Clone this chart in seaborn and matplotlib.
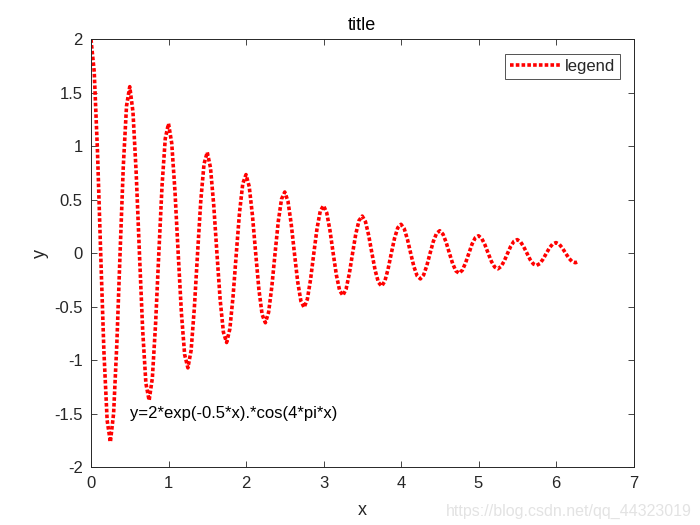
import numpy as np
import pandas as pd
import matplotlib
matplotlib.use("Agg")
import matplotlib.pyplot as plt
import seaborn as sns

y_vals = [
    2.00, 1.696, 0.959, 0.0, -0.920, -1.561, -1.765, -1.497, -0.847, 0.0, 0.812, 1.377,
    1.558, 1.321, 0.747, 0.0, -0.717, -1.216, -1.375, -1.166, -0.659, 0.0, 0.632, 1.073,
    1.213, 1.029, 0.582, 0.0, -0.558, -0.947, -1.071, -0.908, -0.513, 0.0, 0.493, 0.835,
    0.945, 0.801, 0.453, 0.0, -0.435, -0.737, -0.834, -0.707, -0.400, 0.0, 0.384, 0.651,
    0.736, 0.624, 0.353, 0.0, -0.339, -0.574, -0.649, -0.551, -0.311, 0.0, 0.299, 0.507,
    0.573, 0.486, 0.275, 0.0, -0.264, -0.447, -0.506, -0.429, -0.243, 0.0, 0.233, 0.395,
    0.446, 0.379, 0.214, 0.0, -0.205, -0.348, -0.394, -0.334, -0.189, 0.0, 0.181, 0.307,
    0.348, 0.295, 0.167, 0.0, -0.160, -0.271, -0.307, -0.260, -0.147, 0.0, 0.141, 0.239,
    0.271, 0.230, 0.130, 0.0, -0.125, -0.211, -0.239, -0.203, -0.115, 0.0, 0.110, 0.186,
    0.211, 0.179, 0.101, 0.0, -0.097, -0.165, -0.186, -0.158, -0.089, 0.0, 0.086, 0.145,
    0.164, 0.139, 0.079, 0.0, -0.076, -0.128, -0.145, -0.123, -0.070, 0.0, 0.067, 0.113,
    0.128, 0.108, 0.061, 0.0, -0.059, -0.100, -0.113, -0.096, -0.054, 0.0, 0.052, 0.088,
    0.100, 0.085, 0.048, 0.0, -0.046, -0.078, -0.088, -0.079,
]
x_vals = list(np.linspace(0.0, 6.25, len(y_vals) - 1)) + [6.2832]

x_ticks = [0, 1, 2, 3, 4, 5, 6, 7]
y_ticks = [-2, -1.5, -1, -0.5, 0, 0.5, 1, 1.5, 2]
y_tick_labels = ["-2", "-1.5", "-1", "-0.5", "0", "0.5", "1", "1.5", "2"]

df = pd.DataFrame({"x": x_vals, "y": y_vals, "series": "legend"})

sns.set_theme(style="white")
plt.rcParams["font.family"] = ["Liberation Sans", "DejaVu Sans"]

fig = plt.figure(figsize=(7, 5.25), dpi=100)
ax = fig.add_axes([0.13, 0.11, 0.775, 0.815])

sns.lineplot(data=df, x="x", y="y", hue="series", palette=["#ff0000"],
             sort=False, ax=ax, linewidth=2.6, linestyle=":")
for ln in ax.get_lines():
    ln.set_linestyle((0, (1, 0.6)))

ax.set_xlim(0, 7)
ax.set_ylim(-2, 2)
ax.set_xticks(x_ticks)
ax.set_xticklabels([str(t) for t in x_ticks])
ax.set_yticks(y_ticks)
ax.set_yticklabels(y_tick_labels)
ax.tick_params(direction="in", length=4, width=0.6, labelsize=12, colors="#262626",
               top=True, right=True, bottom=True, left=True, labeltop=False, labelright=False,
               pad=6)
for s in ax.spines.values():
    s.set_visible(True)
    s.set_color("#262626")
    s.set_linewidth(0.7)

ax.set_title("title", fontsize=13, color="#000000", pad=7)
ax.set_xlabel("x", fontsize=13, color="#262626", labelpad=8)
ax.set_ylabel("y", fontsize=13, color="#262626", labelpad=4)

ax.text(0.5, -1.5, "y=2*exp(-0.5*x).*cos(4*pi*x)", fontsize=12, ha="left", va="center",
        color="#000000")

leg = ax.legend(loc="upper right", fontsize=12, frameon=True, fancybox=False,
                edgecolor="#262626", handlelength=3.0, handletextpad=0.3, borderpad=0.3,
                borderaxespad=0.0, bbox_to_anchor=(0.976, 0.966))
leg.get_frame().set_linewidth(0.7)
for h in leg.get_lines():
    h.set_linestyle((0, (1, 0.6)))
    h.set_linewidth(2.6)

fig.text(0.988, 0.012, "https://blog.csdn.net/qq_44323019", fontsize=11.5,
         color="#e3e3e3", ha="right", va="bottom")

fig.savefig("out.png", dpi=100, facecolor="white")
